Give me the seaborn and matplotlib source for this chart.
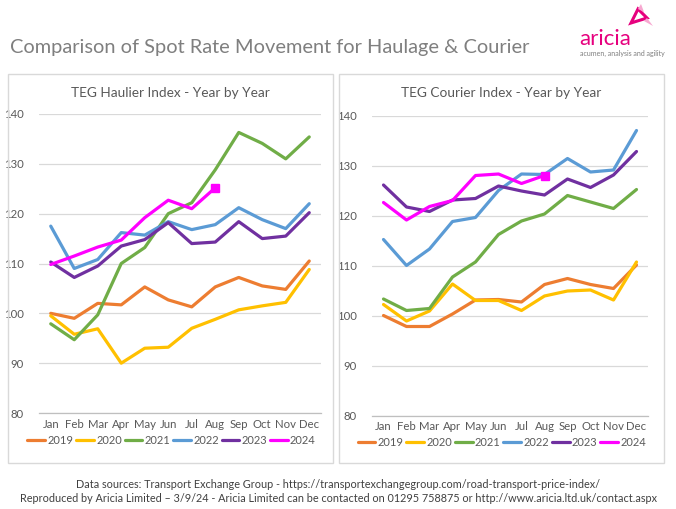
import pandas as pd
import seaborn as sns
import matplotlib.pyplot as plt
from matplotlib.patches import Rectangle, Polygon
from matplotlib.lines import Line2D

sns.set_style("white")
plt.rcParams["font.family"] = ["Lato", "DejaVu Sans"]

months = ["Jan", "Feb", "Mar", "Apr", "May", "Jun",
          "Jul", "Aug", "Sep", "Oct", "Nov", "Dec"]
years = ["2019", "2020", "2021", "2022", "2023", "2024"]
colors = ["#ED7D31", "#FFC000", "#70AD47", "#5B9BD5", "#7030A0", "#FF00FF"]

# TEG Haulier Index
haulier_2019 = [100, 99, 102, 101.7, 105.3, 102.7, 101.3, 105.3, 107.2, 105.5, 104.8, 110.5]
haulier_2020 = [99.5, 95.8, 96.9, 90, 93, 93.2, 97, 98.8, 100.7, 101.5, 102.2, 108.8]
haulier_2021 = [97.9, 94.7, 99.7, 110, 113.2, 120, 122.2, 128.8, 136.3, 134.1, 131, 135.4]
haulier_2022 = [117.5, 109, 110.8, 116.2, 115.7, 118.4, 116.8, 117.8, 121.2, 118.8, 117, 122]
haulier_2023 = [110.3, 107.2, 109.5, 113.5, 114.8, 118.2, 114, 114.3, 118.4, 115, 115.5, 120.2]
haulier_2024 = [109.8, 111.5, 113.3, 114.7, 119.2, 122.7, 121, 125.2]

# TEG Courier Index
courier_2019 = [100, 97.8, 97.8, 100.3, 103.1, 103.2, 102.7, 106.2, 107.4, 106.2, 105.4, 110.1]
courier_2020 = [102.2, 98.9, 100.9, 106.3, 103, 103, 101, 103.9, 104.9, 105.1, 103.1, 110.7]
courier_2021 = [103.3, 101, 101.4, 107.7, 110.7, 116.2, 118.9, 120.3, 124, 122.7, 121.4, 125.2]
courier_2022 = [115.2, 110, 113.3, 118.8, 119.6, 125, 128.3, 128.2, 131.4, 128.7, 129.1, 137]
courier_2023 = [126.1, 121.7, 120.8, 123.1, 123.4, 125.9, 124.9, 124.1, 127.3, 125.6, 128.1, 132.8]
courier_2024 = [122.6, 119.1, 121.8, 123, 128, 128.3, 126.4, 128]

haulier = [haulier_2019, haulier_2020, haulier_2021, haulier_2022, haulier_2023, haulier_2024]
courier = [courier_2019, courier_2020, courier_2021, courier_2022, courier_2023, courier_2024]


def to_frame(series):
    rows = []
    for year, vals in zip(years, series):
        for i, v in enumerate(vals):
            rows.append({"month": i, "year": year, "value": v})
    return pd.DataFrame(rows)


GREY = "#595959"
W, H = 676, 509

fig = plt.figure(figsize=(6.76, 5.09), dpi=100)
fig.patch.set_facecolor("white")

boxes = [(8, 333), (339, 664)]
# chart boxes
for x0, x1 in boxes:
    fig.add_artist(Rectangle((x0 / W, (H - 463) / H), (x1 - x0) / W, (463 - 74) / H,
                             transform=fig.transFigure, fill=False,
                             edgecolor="#d9d9d9", linewidth=1.0))

ax1 = fig.add_axes([39 / W, (H - 413) / H, (321 - 39) / W, (413 - 114) / H])
ax2 = fig.add_axes([372 / W, (H - 415.5) / H, (648 - 372) / W, (415.5 - 115.5) / H])


def draw(ax, series, title, box):
    df = to_frame(series)
    sns.lineplot(data=df, x="month", y="value", hue="year", palette=colors,
                 hue_order=years, linewidth=2.3, legend=False, ax=ax)
    last = series[-1]
    ax.plot(len(last) - 1, last[-1], marker="s", color=colors[-1],
            markersize=5.5, linestyle="none")
    ax.set_xlim(-0.5, 11.5)
    ax.set_ylim(80, 140)
    ax.set_yticks([80, 90, 100, 110, 120, 130, 140])
    ax.set_xticks(range(12))
    ax.set_xticklabels(months)
    ax.set_xticks([i - 0.5 for i in range(13)], minor=True)
    ax.tick_params(axis="x", which="major", length=0, pad=4, labelsize=8.2, labelcolor=GREY)
    ax.tick_params(axis="x", which="minor", length=4, color="#bfbfbf", width=0.8)
    ax.tick_params(axis="y", length=0, pad=11, labelsize=8.2, labelcolor=GREY)
    ax.grid(axis="y", color="#d9d9d9", linewidth=0.9)
    ax.set_axisbelow(True)
    for s in ["top", "right", "left"]:
        ax.spines[s].set_visible(False)
    ax.spines["bottom"].set_color("#bfbfbf")
    ax.spines["bottom"].set_linewidth(0.9)
    ax.set_xlabel("")
    ax.set_ylabel("")
    fig.text((box[0] + box[1]) / 2 / W, 1 - 93 / H, title, fontsize=9.8,
             color=GREY, ha="center", va="center")
    handles = [Line2D([0], [0], color=c, linewidth=2.3) for c in colors]
    ax.legend(handles, years, loc="upper center", bbox_to_anchor=(0.47, -0.05),
              ncol=6, frameon=False, fontsize=8, handlelength=1.6,
              handletextpad=0.2, columnspacing=0.25, labelcolor=GREY,
              borderaxespad=0.2)


draw(ax1, haulier, "TEG Haulier Index - Year by Year", boxes[0])
draw(ax2, courier, "TEG Courier Index - Year by Year", boxes[1])

# header
fig.text(10 / W, 1 - 47 / H, "Comparison of Spot Rate Movement for Haulage & Courier",
         fontsize=14.4, color="#7f7f7f", va="center", ha="left")

# logo
fig.text(579 / W, 1 - 39 / H, "aricia", fontsize=16, color="#E6007E",
         va="center", ha="left")
fig.text(580 / W, 1 - 53 / H, "acumen, analysis and agility", fontsize=5,
         color="#7f7f7f", va="center", ha="left")
tri = [(631, 23), (647, 18), (638, 9)]
fig.add_artist(Polygon([(x / W, 1 - y / H) for x, y in tri], closed=True,
                       transform=fig.transFigure, fill=False,
                       edgecolor="#E6007E", linewidth=2.2))
fig.add_artist(Polygon([(x / W, 1 - y / H) for x, y in [(638, 9), (641, 4), (644, 12)]],
                       closed=True, transform=fig.transFigure,
                       facecolor="#F7A8D0", edgecolor="none"))
fig.add_artist(Polygon([(x / W, 1 - y / H) for x, y in [(647, 18), (653, 26), (644, 21)]],
                       closed=True, transform=fig.transFigure,
                       facecolor="#F7A8D0", edgecolor="none"))

# footer
fig.text(0.5, 1 - 484 / H,
         "Data sources: Transport Exchange Group - https://transportexchangegroup.com/road-transport-price-index/",
         fontsize=7.8, color="#404040", ha="center", va="center")
fig.text(0.5, 1 - 499 / H,
         "Reproduced by Aricia Limited \u2013 3/9/24 - Aricia Limited can be contacted on 01295 758875 or http://www.aricia.ltd.uk/contact.aspx",
         fontsize=7.8, color="#404040", ha="center", va="center")

fig.savefig("out.png", dpi=100, facecolor="white")
